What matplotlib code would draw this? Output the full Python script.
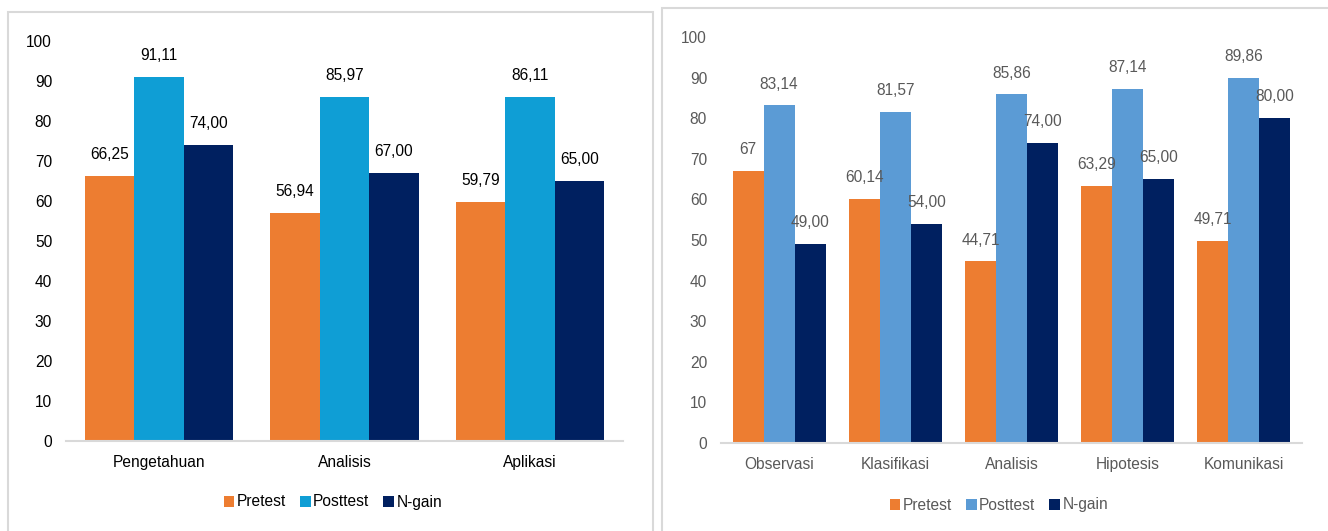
import matplotlib
matplotlib.use("Agg")
import matplotlib.pyplot as plt
from matplotlib.patches import Rectangle
import numpy as np

plt.rcParams['font.family'] = ['Liberation Sans', 'DejaVu Sans']

series = ['Pretest', 'Posttest', 'N-gain']

# left chart
cats_l = ['Pengetahuan', 'Analisis', 'Aplikasi']
pre_l = [66.25, 56.94, 59.79]
post_l = [91.11, 85.97, 86.11]
gain_l = [74.00, 67.00, 65.00]

# right chart
cats_r = ['Observasi', 'Klasifikasi', 'Analisis', 'Hipotesis', 'Komunikasi']
pre_r = [67, 60.14, 44.71, 63.29, 49.71]
post_r = [83.14, 81.57, 85.86, 87.14, 89.86]
gain_r = [49.00, 54.00, 74.00, 65.00, 80.00]
pre_r_labels = ['67', '60,14', '44,71', '63,29', '49,71']

yticks = list(range(0, 101, 10))

W, H = 1328, 531
FS = 11.2


def fmt(v):
    return f"{v:.2f}".replace('.', ',')


def draw(ax, cats, data, labels, colors, txt_color):
    x = np.arange(len(cats))
    w = 0.8 / 3
    for i, vals in enumerate(data):
        bars = ax.bar(x + (i - 1) * w, vals, w, color=colors[i], label=series[i])
        for b, lab in zip(bars, labels[i]):
            ax.annotate(lab, (b.get_x() + b.get_width() / 2, b.get_height()),
                        xytext=(0, 10), textcoords='offset points',
                        ha='center', va='bottom', fontsize=FS, color=txt_color)
    ax.set_xlim(-0.5, len(cats) - 0.5)
    ax.set_ylim(0, 100)
    ax.set_yticks(yticks)
    ax.set_xticks(x)
    ax.set_xticklabels(cats)
    for s in ['top', 'right', 'left']:
        ax.spines[s].set_visible(False)
    ax.spines['bottom'].set_color('#D9D9D9')
    ax.spines['bottom'].set_linewidth(1.5)
    ax.tick_params(axis='both', length=0, labelsize=FS, colors=txt_color)
    ax.tick_params(axis='y', pad=10)
    ax.tick_params(axis='x', pad=10)


fig = plt.figure(figsize=(W / 100, H / 100), dpi=100)

# panel borders
fig.patches.append(Rectangle((8 / W, -0.05), 645 / W, 1.05 - 12 / H, transform=fig.transFigure,
                             fill=False, edgecolor='#D9D9D9', linewidth=1.5))
fig.patches.append(Rectangle((662 / W, -0.05), 700 / W, 1.05 - 8 / H, transform=fig.transFigure,
                             fill=False, edgecolor='#D9D9D9', linewidth=1.5))

ax1 = fig.add_axes([66 / W, (H - 441) / H, 557 / W, 400 / H])
draw(ax1, cats_l, [pre_l, post_l, gain_l],
     [[fmt(v) for v in pre_l], [fmt(v) for v in post_l], [fmt(v) for v in gain_l]],
     ['#ED7D31', '#0F9ED5', '#002060'], '#000000')

ax2 = fig.add_axes([721 / W, (H - 443) / H, 581 / W, 406 / H])
draw(ax2, cats_r, [pre_r, post_r, gain_r],
     [pre_r_labels, [fmt(v) for v in post_r], [fmt(v) for v in gain_r]],
     ['#ED7D31', '#5B9BD5', '#002060'], '#595959')

for ax, cx, cy, col in [(ax1, 333, 502, '#000000'), (ax2, 999, 505, '#595959')]:
    h, l = ax.get_legend_handles_labels()
    leg = fig.legend(h, l, loc='center', bbox_to_anchor=(cx / W, 1 - cy / H), ncol=3,
                     frameon=False, fontsize=FS, handlelength=0.7, handleheight=0.7,
                     handletextpad=0.15, columnspacing=0.9, labelcolor=col)

fig.savefig('out.png', dpi=100)
